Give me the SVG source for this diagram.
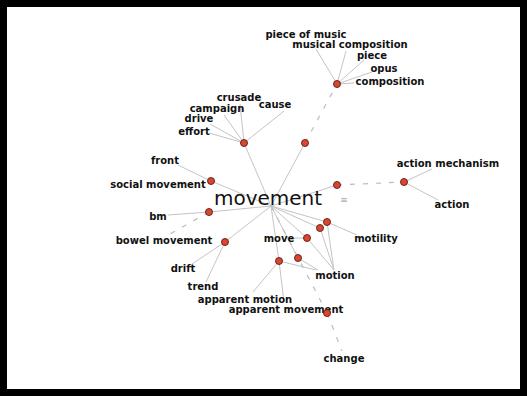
<svg xmlns="http://www.w3.org/2000/svg" width="527" height="396" viewBox="0 0 527 396">
<style>
.e{stroke:#c4c4c4;stroke-width:1;fill:none}
.d{stroke:#bdbdbd;stroke-width:1.2;fill:none;stroke-dasharray:5,8}
.n{fill:#dc4530;stroke:#5a1e16;stroke-width:0.9}
.l{font-family:"DejaVu Sans",sans-serif;font-weight:bold;font-size:10px;fill:#111;text-anchor:middle}
.big{font-family:"DejaVu Sans",sans-serif;font-size:20px;fill:#111}
</style>
<rect width="527" height="396" fill="#000"/>
<rect x="7" y="7" width="513" height="382" fill="#fff"/>
<g id="connectors">
<line class="e" x1="271" y1="206" x2="244" y2="143"/>
<line class="e" x1="271" y1="206" x2="305" y2="143"/>
<line class="e" x1="271" y1="206" x2="211" y2="181"/>
<line class="e" x1="271" y1="206" x2="337" y2="185"/>
<line class="e" x1="271" y1="206" x2="209" y2="212"/>
<line class="e" x1="271" y1="206" x2="225" y2="242"/>
<line class="e" x1="271" y1="206" x2="327" y2="222"/>
<line class="e" x1="271" y1="206" x2="320" y2="228"/>
<line class="e" x1="271" y1="206" x2="307" y2="238"/>
<line class="e" x1="271" y1="206" x2="279" y2="261"/>
<line class="e" x1="271" y1="206" x2="298" y2="258"/>
<line class="d" x1="271" y1="206" x2="327" y2="313"/>
<line class="d" x1="305" y1="143" x2="337" y2="84"/>
<line class="e" x1="337" y1="84" x2="316" y2="49"/>
<line class="e" x1="337" y1="84" x2="346" y2="51"/>
<line class="e" x1="337" y1="84" x2="364" y2="60"/>
<line class="e" x1="337" y1="84" x2="372" y2="72"/>
<line class="e" x1="337" y1="84" x2="354" y2="83"/>
<line class="e" x1="244" y1="143" x2="240" y2="104"/>
<line class="e" x1="244" y1="143" x2="284" y2="111"/>
<line class="e" x1="244" y1="143" x2="224" y2="115"/>
<line class="e" x1="244" y1="143" x2="210" y2="124"/>
<line class="e" x1="244" y1="143" x2="209" y2="133"/>
<line class="e" x1="211" y1="181" x2="178" y2="165"/>
<line class="d" x1="337" y1="185" x2="404" y2="182"/>
<line class="e" x1="404" y1="182" x2="432" y2="169"/>
<line class="e" x1="404" y1="182" x2="438" y2="200"/>
<line class="e" x1="209" y1="212" x2="168" y2="215"/>
<line class="d" x1="209" y1="212" x2="170" y2="234"/>
<line class="e" x1="225" y1="242" x2="192" y2="264"/>
<line class="e" x1="225" y1="242" x2="206" y2="282"/>
<line class="e" x1="327" y1="222" x2="357" y2="235"/>
<line class="e" x1="327" y1="222" x2="334" y2="270"/>
<line class="e" x1="320" y1="228" x2="334" y2="270"/>
<line class="e" x1="307" y1="238" x2="334" y2="270"/>
<line class="e" x1="307" y1="238" x2="294" y2="238"/>
<line class="e" x1="298" y1="258" x2="318" y2="270"/>
<line class="e" x1="279" y1="261" x2="316" y2="270"/>
<line class="e" x1="279" y1="261" x2="253" y2="292"/>
<line class="e" x1="279" y1="261" x2="284" y2="302"/>
<line class="d" x1="327" y1="313" x2="342" y2="351"/>
</g>
<g id="center"><text class="big" x="214" y="205" textLength="108">movement</text></g>
<g id="mark"><text x="344" y="203" style="font-family:'DejaVu Sans',sans-serif;font-size:9px;fill:#aaa;text-anchor:middle">≡</text></g>
<g id="n-music-part"><circle class="n" cx="305" cy="143" r="3.5"/></g>
<g id="n-composition"><circle class="n" cx="337" cy="84" r="3.5"/>
<text class="l" x="306" y="38">piece of music</text>
<text class="l" x="350" y="48">musical composition</text>
<text class="l" x="372" y="59">piece</text>
<text class="l" x="384" y="72">opus</text>
<text class="l" x="390" y="85">composition</text></g>
<g id="n-campaign"><circle class="n" cx="244" cy="143" r="3.5"/>
<text class="l" x="239" y="101">crusade</text>
<text class="l" x="275" y="108">cause</text>
<text class="l" x="217" y="112">campaign</text>
<text class="l" x="199" y="122">drive</text>
<text class="l" x="194" y="135">effort</text></g>
<g id="n-social"><circle class="n" cx="211" cy="181" r="3.5"/>
<text class="l" x="165" y="164">front</text>
<text class="l" x="158" y="188">social movement</text></g>
<g id="n-mech"><circle class="n" cx="337" cy="185" r="3.5"/></g>
<g id="n-action"><circle class="n" cx="404" cy="182" r="3.5"/>
<text class="l" x="448" y="167">action mechanism</text>
<text class="l" x="452" y="208">action</text></g>
<g id="n-bm"><circle class="n" cx="209" cy="212" r="3.5"/>
<text class="l" x="158" y="220">bm</text>
<text class="l" x="164" y="244">bowel movement</text></g>
<g id="n-trend"><circle class="n" cx="225" cy="242" r="3.5"/>
<text class="l" x="183" y="272">drift</text>
<text class="l" x="203" y="290">trend</text></g>
<g id="n-a"><circle class="n" cx="327" cy="222" r="3.5"/>
<text class="l" x="376" y="242">motility</text></g>
<g id="n-b"><circle class="n" cx="320" cy="228" r="3.5"/></g>
<g id="n-c"><circle class="n" cx="307" cy="238" r="3.5"/>
<text class="l" x="279" y="242">move</text></g>
<g id="n-e"><circle class="n" cx="298" cy="258" r="3.5"/>
<text class="l" x="335" y="279">motion</text></g>
<g id="n-d"><circle class="n" cx="279" cy="261" r="3.5"/>
<text class="l" x="245" y="303">apparent motion</text>
<text class="l" x="286" y="313">apparent movement</text></g>
<g id="n-change"><circle class="n" cx="327" cy="313" r="3.5"/>
<text class="l" x="344" y="362">change</text></g>
</svg>
